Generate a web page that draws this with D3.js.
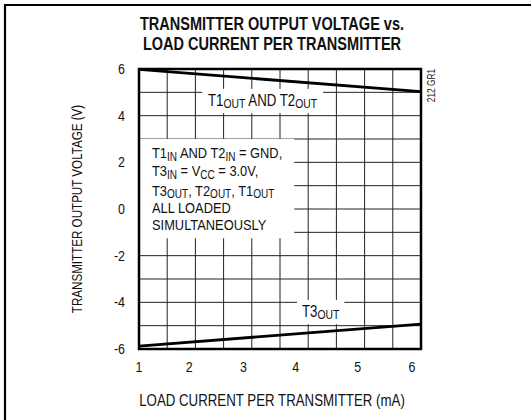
<!DOCTYPE html>
<html>
<head>
<meta charset="utf-8">
<script src="https://cdn.jsdelivr.net/npm/d3@7"></script>
<style>
  body { margin: 0; background: #fff; }
  text { font-family: "Liberation Sans", Arial, sans-serif; fill: #111; }
</style>
</head>
<body>
<svg id="chart" width="531" height="420"></svg>
<script>
// load current (mA) at the two ends of each curve
const current = [1, 6];
const t12Out = [5.98, 5.03];
const t3Out = [-5.88, -4.93];

const xGrid = d3.range(1, 6.01, 0.5);
const yGrid = d3.range(-6, 6.01, 1);
const xTickLabels = ["1", "2", "3", "4", "5", "6"];
// where the labels sit under the axis (the datasheet places them loosely)
const xTickAt = [1, 1.89, 2.85, 3.78, 4.88, 5.84];
const yTicks = [-6, -4, -2, 0, 2, 4, 6];

const svg = d3.select("#chart");
const margin = {left: 139, right: 110, top: 69, bottom: 71};
const W = 531, H = 420;
const NARROW = 0.83; // condensed face look

const x = d3.scaleLinear().domain([1, 6]).range([margin.left, W - margin.right]);
const y = d3.scaleLinear().domain([-6, 6]).range([H - margin.bottom, margin.top]);

// put a condensed text at (px, py)
function ctext(parent, px, py, size, str, extra) {
  return parent.append("text")
    .attr("transform", `translate(${px},${py}) ${extra || ""} scale(${NARROW},1)`)
    .attr("font-size", size)
    .text(str);
}

// outer frame (top and left only)
svg.append("path")
  .attr("d", `M5,420 V5 H531`)
  .attr("fill", "none").attr("stroke", "#000").attr("stroke-width", 2.2);

// title
ctext(svg, 272, 30, 17.5, "TRANSMITTER OUTPUT VOLTAGE vs.")
  .attr("text-anchor", "middle").attr("font-weight", "bold");
ctext(svg, 272, 50, 17.5, "LOAD CURRENT PER TRANSMITTER")
  .attr("text-anchor", "middle").attr("font-weight", "bold");

// grid
const grid = svg.append("g").attr("stroke", "#222").attr("stroke-width", 1);
grid.selectAll("line.v").data(xGrid).join("line")
  .attr("class", "v")
  .attr("x1", d => x(d)).attr("x2", d => x(d))
  .attr("y1", y(-6)).attr("y2", y(6));
grid.selectAll("line.h").data(yGrid).join("line")
  .attr("class", "h")
  .attr("x1", x(1)).attr("x2", x(6))
  .attr("y1", d => y(d)).attr("y2", d => y(d));

// text with subscripts, parts like {t:"T1"} or {sub:"OUT", down:2}
function subLabel(g, parts, size, py) {
  const t = g.append("text")
    .attr("transform", `translate(0,${py}) scale(${NARROW},1)`)
    .attr("font-size", size);
  let back = 0;
  parts.forEach(p => {
    if (p.sub) {
      t.append("tspan").attr("font-size", size * 0.78).attr("dy", p.down - back).text(p.sub);
      back = p.down;
    } else {
      t.append("tspan").attr("dy", -back).text(p.t);
      back = 0;
    }
  });
  return t;
}

function boxed(g, pad) {
  const b = g.node().getBBox();
  g.insert("rect", ":first-child")
    .attr("x", b.x - pad[0]).attr("y", b.y - pad[1])
    .attr("width", b.width + 2 * pad[0]).attr("height", b.height + 2 * pad[1])
    .attr("fill", "#fff");
}

// curves
const line = d3.line().x(d => x(d[0])).y(d => y(d[1]));
svg.append("path")
  .datum(d3.zip(current, t12Out))
  .attr("d", line).attr("fill", "none").attr("stroke", "#000").attr("stroke-width", 2.8);
svg.append("path")
  .datum(d3.zip(current, t3Out))
  .attr("d", line).attr("fill", "none").attr("stroke", "#000").attr("stroke-width", 2.8);

// T1/T2 label
const l1 = svg.append("g").attr("transform", "translate(208,0)");
subLabel(l1, [{t: "T1"}, {sub: "OUT", down: 2}, {t: " AND T2"}, {sub: "OUT", down: 2}], 16, 106);
boxed(l1, [6, 3]);

// T3 label
const l3 = svg.append("g").attr("transform", "translate(302,0)");
subLabel(l3, [{t: "T3"}, {sub: "OUT", down: 2}], 16, 317);
boxed(l3, [5, 3]);

// conditions
const cond = svg.append("g").attr("transform", "translate(152,0)");
const condLines = [
  [{t: "T1"}, {sub: "IN", down: 3}, {t: " AND T2"}, {sub: "IN", down: 3}, {t: " = GND,"}],
  [{t: "T3"}, {sub: "IN", down: 3}, {t: " = V"}, {sub: "CC", down: 3}, {t: " = 3.0V,"}],
  [{t: "T3"}, {sub: "OUT", down: 2}, {t: ", T2"}, {sub: "OUT", down: 2}, {t: ", T1"}, {sub: "OUT", down: 2}],
  [{t: "ALL LOADED"}],
  [{t: "SIMULTANEOUSLY"}]
];
const condY = [158, 176, 196, 213, 230];
condLines.forEach((parts, i) => subLabel(cond, parts, 15.5, condY[i]));
boxed(cond, [12, 5]);

// plot frame
svg.append("rect")
  .attr("x", x(1)).attr("y", y(6))
  .attr("width", x(6) - x(1)).attr("height", y(-6) - y(6))
  .attr("fill", "none").attr("stroke", "#000").attr("stroke-width", 2.5);

// tick labels
xTickLabels.forEach((d, i) => {
  ctext(svg, x(xTickAt[i]), y(-6) + 23, 15, d).attr("text-anchor", "middle");
});
yTicks.forEach(d => {
  ctext(svg, x(1) - 14, y(d) + 5, 15, d).attr("text-anchor", "end");
});

// axis titles
ctext(svg, 272, 406, 16, "LOAD CURRENT PER TRANSMITTER (mA)").attr("text-anchor", "middle");
ctext(svg, 82, (y(6) + y(-6)) / 2, 14, "TRANSMITTER OUTPUT VOLTAGE (V)", "rotate(-90)")
  .attr("text-anchor", "middle");

// figure code
ctext(svg, x(6) + 14, y(6), 10, "212 GR1", "rotate(-90)")
  .attr("text-anchor", "end").attr("fill", "#333");
</script>
</body>
</html>
